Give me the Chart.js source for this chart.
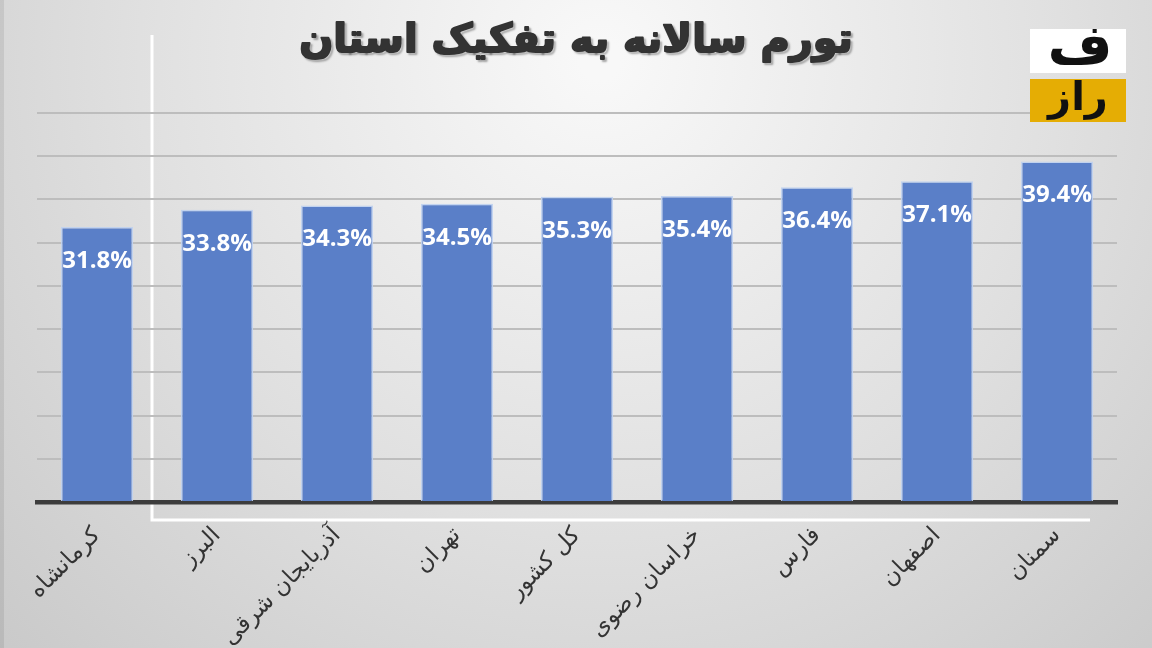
<!DOCTYPE html>
<html>
<head>
<meta charset="utf-8">
<script src="https://cdn.jsdelivr.net/npm/chart.js@4/dist/chart.umd.min.js"></script>
<style>
html,body{margin:0;padding:0;background:#ddd;}
#wrap{width:1152px;height:648px;position:relative;}
</style>
</head>
<body>
<div id="wrap"><canvas id="c" width="1152" height="648"></canvas></div>
<script>
const categories = ["کرمانشاه","البرز","آذربایجان شرقی","تهران","کل کشور","خراسان رضوی","فارس","اصفهان","سمنان"];
const values = [31.8, 33.8, 34.3, 34.5, 35.3, 35.4, 36.4, 37.1, 39.4];
const titleText = "تورم سالانه به تفکیک استان";
const logoTop = "ف";
const logoBottom = "راز";

const decor = {
  id: 'decor',
  beforeDraw(chart) {
    const ctx = chart.ctx;
    ctx.save();
    const g = ctx.createRadialGradient(600, 60, 20, 600, 60, 1000);
    g.addColorStop(0, '#f8f8f8');
    g.addColorStop(0.45, '#e0e0e0');
    g.addColorStop(1, '#c0c0c0');
    ctx.fillStyle = g;
    ctx.fillRect(0, 0, chart.width, chart.height);
    ctx.fillStyle = 'rgba(0,0,0,0.08)';
    ctx.fillRect(0, 0, 4, chart.height);
    ctx.strokeStyle = '#ffffff';
    ctx.lineWidth = 3;
    ctx.beginPath();
    ctx.moveTo(152, 35);
    ctx.lineTo(152, 520);
    ctx.lineTo(1090, 520);
    ctx.stroke();
    ctx.restore();
  },
  afterDraw(chart) {
    const ctx = chart.ctx;
    ctx.save();
    ctx.font = 'bold 40px "DejaVu Sans"';
    ctx.textAlign = 'center';
    ctx.textBaseline = 'middle';
    ctx.direction = 'rtl';
    ctx.shadowColor = 'rgba(0,0,0,0.35)';
    ctx.shadowOffsetX = 2;
    ctx.shadowOffsetY = 2;
    ctx.shadowBlur = 2;
    ctx.fillStyle = '#333333';
    ctx.strokeStyle = '#333333';
    ctx.lineWidth = 2;
    ctx.lineJoin = 'round';
    ctx.strokeText(titleText, 576, 42);
    ctx.shadowColor = 'transparent';
    ctx.fillText(titleText, 576, 42);
    // logo
    ctx.fillStyle = '#ffffff';
    ctx.fillRect(1030, 29, 96, 44);
    ctx.fillStyle = '#e5ad04';
    ctx.fillRect(1030, 79, 96, 43);
    ctx.fillStyle = '#111';
    ctx.font = 'bold 56px "DejaVu Sans"';
    ctx.textBaseline = 'alphabetic';
    ctx.fillText(logoTop, 1080, 64);
    ctx.font = 'bold 40px "DejaVu Sans"';
    ctx.textBaseline = 'middle';
    ctx.fillText(logoBottom, 1078, 100);
    ctx.restore();
  }
};

const valueLabels = {
  id: 'valueLabels',
  afterDatasetsDraw(chart) {
    const ctx = chart.ctx;
    const meta = chart.getDatasetMeta(0);
    ctx.save();
    ctx.font = 'bold 24px "Open Sans"';
    ctx.fillStyle = '#ffffff';
    ctx.textAlign = 'center';
    ctx.textBaseline = 'middle';
    meta.data.forEach((bar, i) => {
      ctx.fillText(values[i].toFixed(1) + '%', bar.x, bar.y + 34);
    });
    ctx.restore();
  }
};

new Chart(document.getElementById('c'), {
  type: 'bar',
  data: {
    labels: categories,
    datasets: [{
      data: values,
      backgroundColor: '#5a7fc8',
      borderColor: 'rgba(190,208,240,0.9)',
      borderWidth: 1.5,
      barPercentage: 0.6,
      categoryPercentage: 1.0
    }]
  },
  options: {
    responsive: false,
    animation: false,
    devicePixelRatio: 1,
    layout: { padding: { left: 37, right: 35, top: 113, bottom: 0 } },
    plugins: { legend: { display: false }, tooltip: { enabled: false }, title: { display: false } },
    scales: {
      x: {
        offset: true,
        grid: { display: false, drawTicks: false },
        border: { display: true, color: '#3c3c3c', width: 4.5 },
        ticks: {
          minRotation: 45, maxRotation: 45,
          color: '#333333',
          padding: 20,
          font: { family: '"DejaVu Sans"', size: 23 }
        },
        afterFit(s) { s.height = 146; }
      },
      y: {
        min: 0, max: 45,
        ticks: { display: false, stepSize: 5 },
        border: { display: false },
        grid: { color: '#bdbdbd', lineWidth: 2, drawTicks: false },
        afterFit(s) { s.width = 0; }
      }
    }
  },
  plugins: [decor, valueLabels]
});
</script>
</body>
</html>
